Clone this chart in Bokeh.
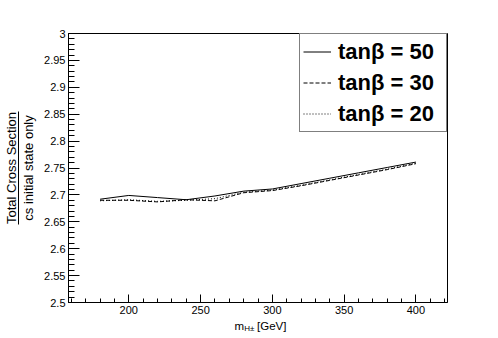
from bokeh.plotting import figure
from bokeh.models import (Range1d, FixedTicker, CustomJSTickFormatter, Legend, LegendItem,
                          LinearAxis)
from bokeh.embed import file_html
from bokeh.resources import INLINE

# ---- data ----
mass = [180, 200, 220, 240, 260, 280, 300, 320, 340, 360, 380, 400]
tb50 = [2.692, 2.699, 2.695, 2.691, 2.698, 2.707, 2.711, 2.721, 2.731, 2.741, 2.751, 2.761]
tb30 = [2.690, 2.690, 2.687, 2.691, 2.689, 2.704, 2.708, 2.717, 2.727, 2.737, 2.747, 2.758]
tb20 = [2.689, 2.691, 2.688, 2.690, 2.693, 2.705, 2.709, 2.718, 2.728, 2.738, 2.748, 2.759]
labels = ["tan\u03b2 = 50", "tan\u03b2 = 30", "tan\u03b2 = 20"]

x_major = [200, 250, 300, 350, 400]
x_minor = list(range(160, 421, 10))
y_major = [2.5 + 0.05 * i for i in range(11)]
y_minor = [2.5 + 0.01 * i for i in range(51)]

# axis titles
y_title_num = "Total Cross Section"
y_title_den = "cs initial state only"
frac_bar = (2.645, 2.855)            # extent of the fraction bar (y units)
x_title_main = ["m", "[GeV]"]         # main pieces of the x title
x_title_main_at = [277.0, 299.6]      # their centres (x units)
x_title_sub = ["H\u00b1"]            # subscript of m
x_title_sub_at = [284.0]

FONT = "Liberation Sans"

p = figure(width=498, height=338, output_backend="svg", toolbar_location=None,
           x_range=Range1d(158, 422), y_range=Range1d(2.5, 3.0))
p.min_border_left = 63
p.min_border_right = 51
p.min_border_top = 33
p.min_border_bottom = 36
p.background_fill_color = "white"
p.border_fill_color = "white"
p.outline_line_color = "black"
p.outline_line_width = 1
p.xgrid.visible = False
p.ygrid.visible = False

r50 = p.line(mass, tb50, line_color="black", line_width=1)
r30 = p.line(mass, tb30, line_color="black", line_width=1, line_dash="4 2")
r20 = p.line(mass, tb20, line_color="black", line_width=1, line_dash="1 2")

xa = p.xaxis[0]
xa.ticker = FixedTicker(ticks=x_major, minor_ticks=x_minor)
xa.formatter = CustomJSTickFormatter(code="return String(Math.round(tick));")
xa.major_tick_in = 8
xa.major_tick_out = 0
xa.minor_tick_in = 4
xa.minor_tick_out = 0
xa.major_label_standoff = 3
xa.axis_label = None

ya = p.yaxis[0]
ya.ticker = FixedTicker(ticks=y_major, minor_ticks=y_minor)
ya.formatter = CustomJSTickFormatter(code="return String(Math.round(tick*100)/100);")
ya.major_tick_in = 11
ya.major_tick_out = 0
ya.minor_tick_in = 6
ya.minor_tick_out = 0
ya.major_label_standoff = 3
ya.axis_label = y_title_den
ya.axis_label_standoff = 5
ya.axis_label_text_font = FONT
ya.axis_label_text_font_size = "13px"
ya.axis_label_text_font_style = "normal"
ya.axis_label_text_color = "black"

for ax in (xa, ya):
    ax.axis_line_color = "black"
    ax.major_tick_line_color = "black"
    ax.minor_tick_line_color = "black"
    ax.major_label_text_font = FONT
    ax.major_label_text_font_size = "11px"
    ax.major_label_text_color = "black"

# numerator + fraction bar of the y title: a bounded extra axis without ticks
bar_axis = LinearAxis(bounds=frac_bar, ticker=FixedTicker(ticks=[]),
                      major_tick_in=0, major_tick_out=0, minor_tick_in=0, minor_tick_out=0,
                      major_label_standoff=0, axis_line_color="black", axis_line_width=1,
                      axis_label=y_title_num, axis_label_standoff=0,
                      axis_label_text_font=FONT, axis_label_text_font_size="13px",
                      axis_label_text_font_style="normal", axis_label_text_color="black")
p.add_layout(bar_axis, "left")

# x title: tick labels of two extra, line-less axes below the x axis
def title_axis(parts, at, size, standoff):
    return LinearAxis(ticker=FixedTicker(ticks=at, minor_ticks=[]),
                      formatter=CustomJSTickFormatter(args=dict(parts=parts),
                                                      code="return parts[index];"),
                      major_tick_in=0, major_tick_out=0, minor_tick_in=0, minor_tick_out=0,
                      axis_line_color=None, major_tick_line_color=None,
                      minor_tick_line_color=None, major_label_standoff=standoff,
                      major_label_text_font=FONT, major_label_text_font_size=size,
                      major_label_text_color="black", axis_label=None)

p.add_layout(title_axis(x_title_main, x_title_main_at, "11.5px", 3), "below")
p.add_layout(title_axis(x_title_sub, x_title_sub_at, "8px", -11), "below")

legend = Legend(items=[LegendItem(label=labels[0], renderers=[r50]),
                       LegendItem(label=labels[1], renderers=[r30]),
                       LegendItem(label=labels[2], renderers=[r20])],
                location="top_right", margin=0, padding=3, spacing=2,
                glyph_width=28, glyph_height=29, label_height=29, label_width=105,
                label_standoff=7, label_text_font=FONT, label_text_font_style="bold",
                label_text_font_size="22px", label_text_color="black",
                border_line_color="black", border_line_width=1,
                background_fill_color="white", background_fill_alpha=1)
p.add_layout(legend)

open("out.html", "w").write(file_html(p, INLINE))
